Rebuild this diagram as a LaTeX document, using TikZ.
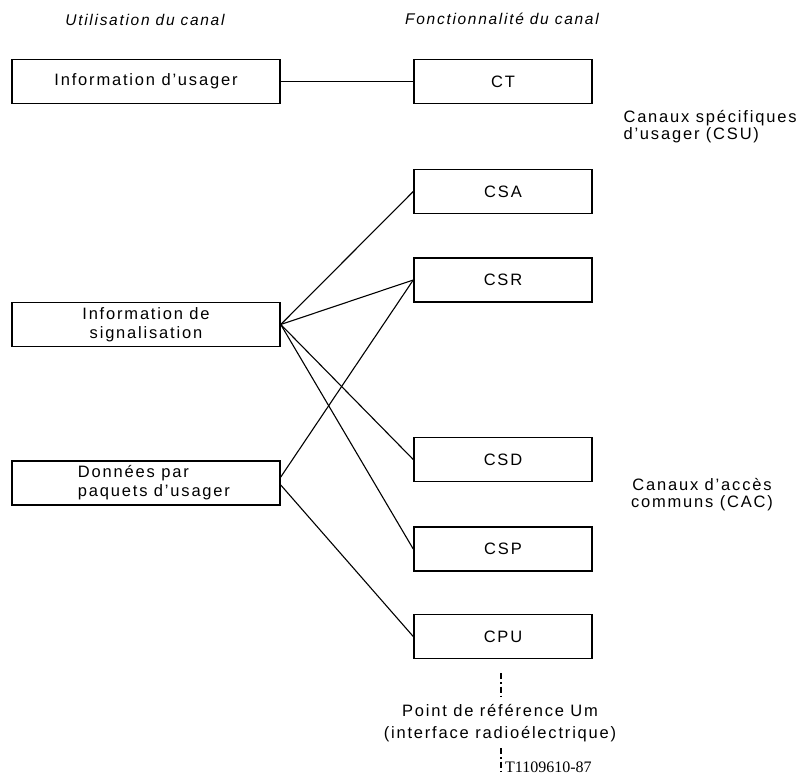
\documentclass[tikz,border=0pt]{standalone}
\usepackage{fontspec}
\setmainfont{Liberation Sans}[LetterSpace=11]
\newfontfamily\codefont{Liberation Serif}
\begin{document}
\begin{tikzpicture}[x=1pt,y=-1pt,
  font=\fontsize{16.5}{19}\selectfont,
  lbox/.style={draw,line width=1.5pt,minimum width=268pt,minimum height=44pt,inner sep=0pt,align=center},
  rbox/.style={draw,line width=1.5pt,minimum width=178pt,minimum height=44pt,inner sep=0pt},
  conn/.style={line width=1.1pt},
  ttl/.style={anchor=base,font=\fontsize{15.5}{18}\selectfont\itshape},
  refline/.style={line width=1.1pt,dash pattern=on 6pt off 3pt on 1.5pt off 3pt}]
\useasboundingbox (0,0) rectangle (803,776);
% titles
\node[ttl] (t1) at (145,26) {Utilisation du canal};
\node[ttl] (t2) at (502,25) {Fonctionnalité du canal};
% left boxes
\node[lbox] (IU) at (146,81.5) {Information d’usager};
\node[lbox] (IS) at (146,324.5) {Information de\\signalisation};
\node[lbox,align=left] (DO) at (146,483) {\hspace*{16pt}Données par\\\hspace*{16pt}paquets d’usager};
% right boxes
\node[rbox] (CT) at (503,81.5) {CT};
\node[rbox] (CSA) at (503,191.5) {CSA};
\node[rbox] (CSR) at (503,280) {CSR};
\node[rbox] (CSD) at (503,459.5) {CSD};
\node[rbox] (CSP) at (503,549) {CSP};
\node[rbox] (CPU) at (503,636.5) {CPU};
% group labels
\node[anchor=west,align=left,font=\fontsize{16.5}{17}\selectfont] (csu) at (620,127) {Canaux spécifiques\\d’usager (CSU)};
\node[align=center,font=\fontsize{16.5}{17}\selectfont] (cac) at (702,495) {Canaux d’accès\\communs (CAC)};
% connectors
\draw[conn] (IU.east) -- (CT.west);
\coordinate (ISo) at (IS.east);
\draw[conn] (ISo) -- (CSA.west);
\draw[conn] (ISo) -- (CSR.west);
\draw[conn] (ISo) -- (CSD.west);
\draw[conn] (ISo) -- (CSP.west);
\coordinate (DOu) at ([yshift=6pt]DO.east);
\coordinate (DOd) at ([yshift=-2pt]DO.east);
\draw[conn] (DOu) -- (CSR.west);
\draw[conn] (DOd) -- (CPU.west);
% reference point
\node[align=center,font=\fontsize{16.5}{22}\selectfont] (um) at (500,723) {Point de référence Um\\(interface radioélectrique)};
\coordinate (d1a) at (501,673);
\coordinate (d1b) at (501,697);
\coordinate (d2a) at (501,748);
\coordinate (d2b) at (501,774);
\draw[refline] (d1a) -- (d1b);
\draw[refline] (d2a) -- (d2b);
\node[anchor=west,inner sep=0pt,font=\codefont\fontsize{16}{18}\selectfont] (code) at (505,767) {T1109610-87};
\end{tikzpicture}
\end{document}
